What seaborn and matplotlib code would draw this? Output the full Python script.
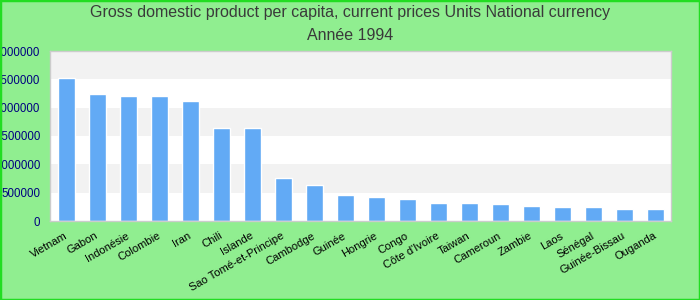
import matplotlib
matplotlib.use("Agg")
import matplotlib.pyplot as plt
import matplotlib.ticker as mticker
import seaborn as sns
import pandas as pd

countries = ["Vietnam", "Gabon", "Indonésie", "Colombie", "Iran", "Chili", "Islande",
             "Sao Tomé-et-Principe", "Cambodge", "Guinée", "Hongrie", "Congo",
             "Côte d'Ivoire", "Taiwan", "Cameroun", "Zambie", "Laos", "Sénégal",
             "Guinée-Bissau", "Ouganda"]
values = [2518000, 2234000, 2199000, 2199000, 2110000, 1649000, 1649000,
          762000, 638000, 460000, 425000, 390000, 320000, 320000, 300000,
          266000, 248000, 248000, 213000, 213000]
y_ticks = [0, 500000, 1000000, 1500000, 2000000, 2500000, 3000000]
title_line1 = "Gross domestic product per capita, current prices Units National currency"
title_line2 = "Année 1994"

df = pd.DataFrame({"country": countries, "value": values})

sns.set_theme(style="white")
plt.rcParams['font.family'] = ['Liberation Sans', 'DejaVu Sans']

fig = plt.figure(figsize=(7, 3), dpi=100, facecolor="#90ee90")
ax = fig.add_axes([50/700, 1-221/300, 621/700, 170/300])
ax.set_facecolor("white")

# alternating bands
for i in range(len(y_ticks) - 1):
    if (len(y_ticks) - 2 - i) % 2 == 0:
        ax.axhspan(y_ticks[i], y_ticks[i+1], color="#f2f2f2", zorder=0, lw=0)

sns.barplot(data=df, x="country", y="value", color="#62aaf5", width=0.55,
            saturation=1, ax=ax, zorder=2)

ax.set_ylim(0, 3000000)
ax.set_xlim(-0.53, len(countries) - 0.5)
ax.set_yticks(y_ticks)
ax.yaxis.set_major_formatter(mticker.FuncFormatter(lambda v, p: f"{int(v)}"))
ax.set_xlabel("")
ax.set_ylabel("")
ax.tick_params(axis="y", length=0, pad=7, labelsize=8.3, labelcolor="#000080")
ax.tick_params(axis="x", length=0, pad=10, labelsize=8, labelcolor="black")
for lab in ax.get_xticklabels():
    lab.set_rotation(30)
    lab.set_ha("right")
    lab.set_va("center")
    lab.set_rotation_mode("anchor")
for s in ax.spines.values():
    s.set_color("#cccccc")
    s.set_linewidth(1)

fig.text(0.5, 1 - 13/300, title_line1, ha="center", va="center",
         fontsize=11.5, color="#3a3a3a")
fig.text(0.5, 1 - 35/300, title_line2, ha="center", va="center",
         fontsize=11.5, color="#3a3a3a")

# outer border
border = plt.Rectangle((0, 0), 1, 1, transform=fig.transFigure, fill=False,
                       edgecolor="#22dd22", linewidth=2.5, zorder=10)
fig.patches.append(border)

fig.savefig("out.png", dpi=100, facecolor=fig.get_facecolor())
